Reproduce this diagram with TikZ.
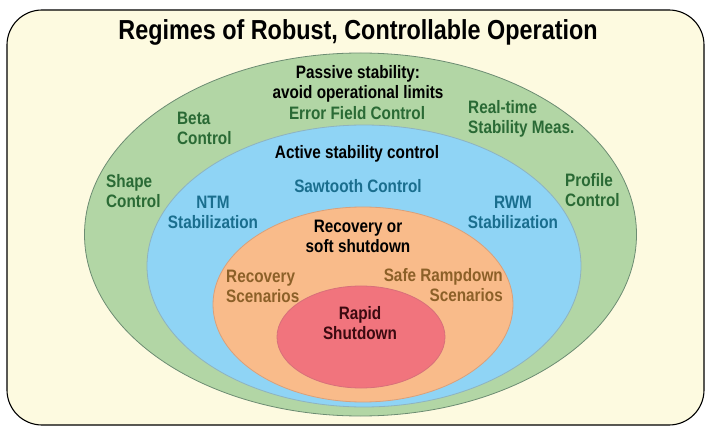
\documentclass[tikz,border=0pt]{standalone}
\usepackage{fontspec}
\setmainfont{Liberation Sans}[FakeStretch=0.85]
\begin{document}
\begin{tikzpicture}[x=1pt,y=-1pt]
  % palette
  \definecolor{paper}{HTML}{FDFAE0}
  \definecolor{passivefill}{HTML}{B2D6A5}
  \definecolor{passiveedge}{HTML}{6C8C72}
  \definecolor{activefill}{HTML}{8FD4F5}
  \definecolor{activeedge}{HTML}{8EB3C0}
  \definecolor{softfill}{HTML}{F9BB8A}
  \definecolor{softedge}{HTML}{D9A07A}
  \definecolor{rapidfill}{HTML}{F1747D}
  \definecolor{rapidedge}{HTML}{D8707A}
  \definecolor{greentext}{HTML}{2A6A35}
  \definecolor{bluetext}{HTML}{1A6E8E}
  \definecolor{browntext}{HTML}{8C6028}
  \definecolor{rapidtext}{HTML}{3C0A10}

  \tikzset{
    label/.style={inner sep=0pt, font=\fontsize{18}{20}\selectfont\bfseries},
    heading/.style={label, text=black},
    greenlbl/.style={label, text=greentext},
    bluelbl/.style={label, text=bluetext},
    brownlbl/.style={label, text=browntext},
    regime/.style={line width=0.8pt},
  }

  \useasboundingbox (0,0) rectangle (706,427);

  % frame
  \draw[line width=1.1pt, fill=paper, rounded corners=35pt] (7,10) rectangle (704,425);

  % nested regimes
  \draw[regime, fill=passivefill, draw=passiveedge]
    (360.5,234.5) ellipse [x radius=276pt, y radius=181.5pt];
  \draw[regime, fill=activefill, draw=activeedge]
    (364,266) ellipse [x radius=217pt, y radius=141pt];
  \draw[regime, fill=softfill, draw=softedge]
    (363,304.5) ellipse [x radius=150pt, y radius=97.5pt];
  \draw[regime, fill=rapidfill, draw=rapidedge]
    (361,337) ellipse [x radius=84pt, y radius=51pt];

  % title
  \node[inner sep=0pt, font=\fontsize{27.5}{30}\selectfont\bfseries] (title) at (358,32)
    {Regimes of Robust, Controllable Operation};

  % passive stability band
  \node[heading, align=center] (passive) at (358,84) {Passive stability:\\avoid operational limits};
  \node[greenlbl] (errorfield) at (357,113) {Error Field Control};
  \node[greenlbl, align=left, anchor=west] (beta) at (177,128) {Beta\\Control};
  \node[greenlbl, align=left, anchor=west] (realtime) at (468,119) {Real-time\\Stability Meas.};
  \node[greenlbl, align=left, anchor=west] (shape) at (106,191) {Shape\\Control};
  \node[greenlbl, align=left, anchor=west] (profile) at (565,190) {Profile\\Control};

  % active stability band
  \node[heading] (active) at (357,154) {Active stability control};
  \node[bluelbl] (sawtooth) at (358,186) {Sawtooth Control};
  \node[bluelbl, align=center] (ntm) at (213,212) {NTM\\Stabilization};
  \node[bluelbl, align=center] (rwm) at (513,212) {RWM\\Stabilization};

  % recovery band
  \node[heading, align=center] (recovery) at (358,236) {Recovery or\\soft shutdown};
  \node[brownlbl, align=left, anchor=west] (recscen) at (226,286) {Recovery\\Scenarios};
  \node[brownlbl, align=right, anchor=east] (safe) at (503,285) {Safe Rampdown\\Scenarios};

  % innermost regime
  \node[label, text=rapidtext, align=center] (rapid) at (360,323) {Rapid\\Shutdown};
\end{tikzpicture}
\end{document}
